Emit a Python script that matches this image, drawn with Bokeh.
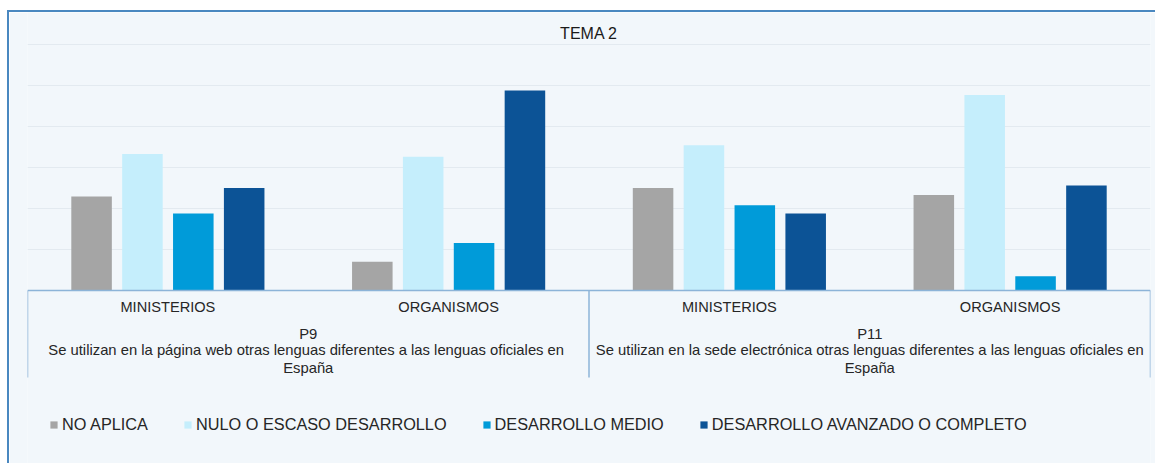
from bokeh.plotting import figure
from bokeh.models import (FactorRange, Range1d, ColumnDataSource, FixedTicker, Grid,
                          Span, Legend, LegendItem)
from bokeh.transform import dodge
from bokeh.core.properties import value
from bokeh.embed import file_html
from bokeh.resources import INLINE

# ---------------- data ----------------
title = "TEMA 2"
groups = ["P9", "P11"]
subgroups = ["MINISTERIOS", "ORGANISMOS"]
group_lines = {
    "P9": ["P9",
           "Se utilizan en la página web  otras lenguas diferentes a las lenguas oficiales en",
           "España"],
    "P11": ["P11",
            "Se utilizan en la sede electrónica otras lenguas diferentes a las lenguas oficiales en",
            "España"],
}
series = ["NO APLICA", "NULO O ESCASO DESARROLLO", "DESARROLLO MEDIO",
          "DESARROLLO AVANZADO O COMPLETO"]
no_aplica = [22.9, 7.0, 25.0, 23.3]
nulo_escaso = [33.3, 32.6, 35.4, 47.7]
medio = [18.8, 11.6, 20.8, 3.5]
avanzado = [25.0, 48.8, 18.8, 25.6]
grid_ticks = [10, 20, 30, 40, 50, 60]

# ---------------- style ----------------
FONT = "Liberation Sans"
BG = "#f2f7fb"
GRID_C = "#e3eaf0"
AXIS_C = "#8db4d8"
BORDER_C = "#4a88c0"
TXT = "#262626"
colors = ["#a5a5a5", "#c5eefc", "#009bd9", "#0c5396"]
offsets = [-0.2718, -0.0906, 0.0906, 0.2718]
BAR_W = 0.1444

OFF_X, OFF_Y = 9, 12          # canvas origin on the page (after css margin + border)
W, H = 1157 - OFF_X, 465 - OFF_Y
BASE_Y = 290 - OFF_Y          # baseline position from canvas top, px
PX = 4.1                      # px per unit

factors = [(g, s) for g in groups for s in subgroups]
x_range = FactorRange(*factors, range_padding=0, group_padding=0,
                      factor_padding=0, subgroup_padding=0)
y_range = Range1d(-(H - BASE_Y) / PX, BASE_Y / PX)

p = figure(width=W, height=H, x_range=x_range, y_range=y_range,
           output_backend="svg", toolbar_location=None,
           x_axis_location=None, y_axis_location=None,
           min_border_left=27 - OFF_X, min_border_right=7, min_border_top=0, min_border_bottom=0,
           background_fill_color=BG, border_fill_color=BG, outline_line_color=None)
p.styles = {"margin-left": "7px", "margin-top": "10px",
            "border-left": f"2px solid {BORDER_C}", "border-top": f"2px solid {BORDER_C}"}
p.grid.visible = False

p.add_layout(Grid(dimension=1, ticker=FixedTicker(ticks=grid_ticks),
                  grid_line_color=GRID_C, grid_line_width=1))

src = ColumnDataSource(dict(cat=factors, no_aplica=no_aplica, nulo_escaso=nulo_escaso,
                            medio=medio, avanzado=avanzado))
cols = ["no_aplica", "nulo_escaso", "medio", "avanzado"]
items = []
for name, col, color, off in zip(series, cols, colors, offsets):
    r = p.vbar(x=dodge("cat", off, range=p.x_range), top=col, width=BAR_W, source=src,
               fill_color=color, line_color=None)
    items.append(LegendItem(label=name, renderers=[r]))

# category axis lines
p.add_layout(Span(location=0, dimension="width", line_color=AXIS_C, line_width=1.5))
vx = [("P9", "MINISTERIOS", -0.5), ("P9", "ORGANISMOS", 0.5), ("P11", "ORGANISMOS", 0.5)]
p.segment(x0=vx, y0=[0] * 3, x1=vx, y1=[-87 / PX] * 3, line_color=AXIS_C, line_width=1.5)

# category labels
SHIFT = -6.5
p.text(x=factors, y=[0] * len(factors), text=[s for g, s in factors], y_offset=23 + SHIFT,
       text_align="center", text_baseline="alphabetic", text_font=value(FONT),
       text_font_size="14.6px", text_color=TXT)
gx = [(g, "MINISTERIOS", 0.5) for g in groups]
for i, off in enumerate([49.5, 66, 83.5]):
    p.text(x=gx, y=[0] * len(groups), text=[group_lines[g][i] for g in groups],
           y_offset=off + SHIFT,
           text_align="center", text_baseline="alphabetic", text_font=value(FONT),
           text_font_size="14.8px", text_color=TXT)

# title
p.text(x=[("P9", "ORGANISMOS", 0.5)], y=[grid_ticks[-1]], text=[title], y_offset=-5 + SHIFT,
       text_align="center", text_baseline="alphabetic", text_font=value(FONT),
       text_font_size="16px", text_color="#1a1a1a")

# legend
legend = Legend(items=items, orientation="horizontal", location=(22, 31 - (465 - OFF_Y - H)),
                glyph_width=9, glyph_height=9, label_standoff=4, spacing=35,
                padding=0, margin=0, border_line_color=None, background_fill_alpha=0,
                label_text_font=FONT, label_text_font_size="16.3px", label_text_color=TXT,
                label_height=18)
p.add_layout(legend)

open("out.html", "w").write(file_html(p, INLINE))
